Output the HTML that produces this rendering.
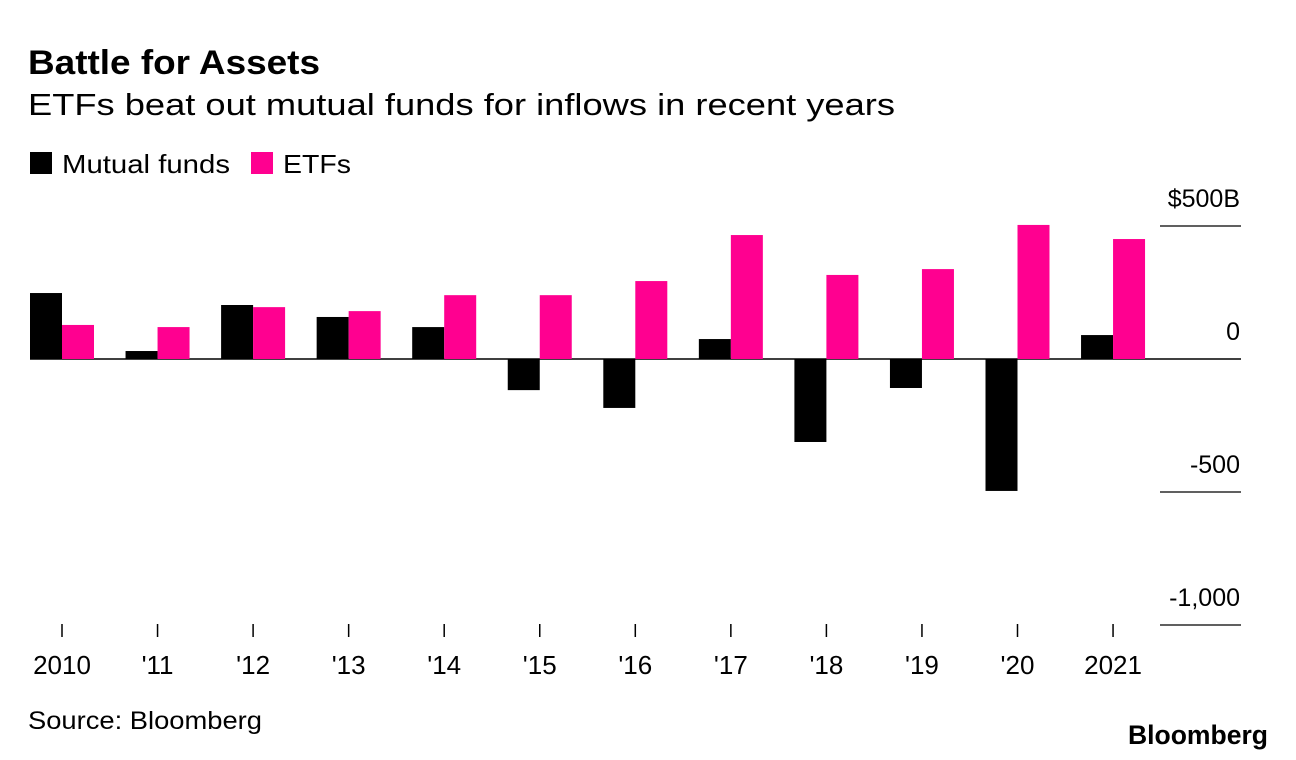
<!DOCTYPE html>
<html><head><meta charset="utf-8"><style>
body{margin:0;background:#fff;font-family:"Liberation Sans",sans-serif;}
svg{display:block}
</style></head><body>
<svg width="1296" height="760" xmlns="http://www.w3.org/2000/svg" font-family="Liberation Sans, sans-serif">
<text x="28" y="74" font-size="34" font-weight="bold" fill="#000" textLength="292" lengthAdjust="spacingAndGlyphs">Battle for Assets</text>
<text x="28" y="115" font-size="31" fill="#000" textLength="867" lengthAdjust="spacingAndGlyphs">ETFs beat out mutual funds for inflows in recent years</text>
<g>
<rect x="30" y="152" width="22" height="22" fill="#000"/>
<text x="62" y="173" font-size="26" textLength="168" lengthAdjust="spacingAndGlyphs">Mutual funds</text>
<rect x="251" y="152" width="22" height="22" fill="#ff0090"/>
<text x="283" y="173" font-size="26" textLength="68" lengthAdjust="spacingAndGlyphs">ETFs</text>
</g>
<g id="plot"></g>
<text x="28" y="729" font-size="25" textLength="234" lengthAdjust="spacingAndGlyphs">Source: Bloomberg</text>
<text x="1268" y="744" font-size="27" font-weight="bold" text-anchor="end" textLength="140" lengthAdjust="spacingAndGlyphs">Bloomberg</text>
</svg>
<script>
const categories=["2010","'11","'12","'13","'14","'15","'16","'17","'18","'19","'20","2021"];
const mutualFunds=[248,30,203,158,120,-117,-184,75,-312,-109,-496,90];
const etfs=[128,120,195,180,240,240,293,466,316,338,504,451];
const yTicks=[500,0,-500,-1000];
const yTickLabels=["$500B","0","-500","-1,000"];
const NS="http://www.w3.org/2000/svg";
const g=document.getElementById('plot');
const y=v=>359-v*133/500;
const x=i=>62+i*95.55;
const bw=32;
function mk(t,a){const e=document.createElementNS(NS,t);for(const k in a)e.setAttribute(k,a[k]);g.appendChild(e);return e;}
yTicks.forEach((v,i)=>{
 const l=mk('line',{x1:1160,x2:1241,y1:y(v),y2:y(v),stroke:'#000','stroke-width':v===0?1.5:1.2});
 
 
 const t=mk('text',{x:1240,y:y(v)-19,'font-size':25,'text-anchor':'end'});
 t.textContent=yTickLabels[i];
 
 
});
const z=mk('line',{x1:30,x2:1160,y1:y(0),y2:y(0),stroke:'#000','stroke-width':1.5});


categories.forEach((c,i)=>{
 const cx=x(i);
 const m=mutualFunds[i];
 const r1=mk('rect',{x:cx-bw,y:Math.min(y(m),y(0)),width:bw,height:Math.abs(y(m)-y(0)),fill:'#000'});
 
 
 const e=etfs[i];
 const r2=mk('rect',{x:cx,y:Math.min(y(e),y(0)),width:bw,height:Math.abs(y(e)-y(0)),fill:'#ff0090'});
 
 
 const tk=mk('line',{x1:cx,x2:cx,y1:624,y2:637,stroke:'#000','stroke-width':1.5});
 
 
 const t=mk('text',{x:cx,y:674,'font-size':26,'text-anchor':'middle'});
 t.textContent=c;
 
 
});
</script>
</body></html>
